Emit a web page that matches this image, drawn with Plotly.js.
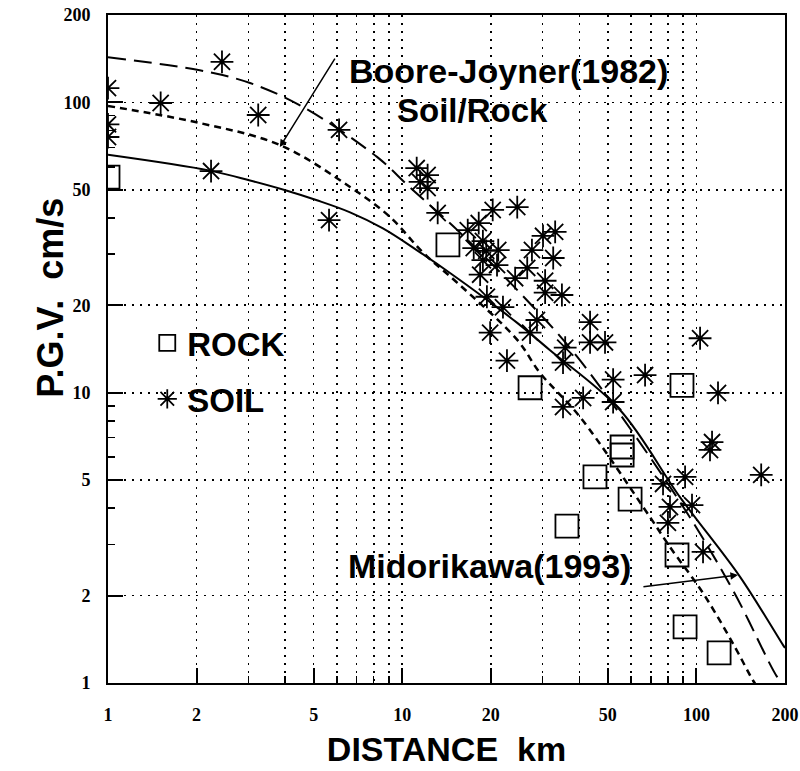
<!DOCTYPE html>
<html>
<head>
<meta charset="utf-8">
<script src="https://cdn.plot.ly/plotly-3.0.1.min.js"></script>
<style>html,body{margin:0;padding:0;background:#fff;}#chart{width:800px;height:771px;}</style>
</head>
<body>
<div id="chart"></div>
<script>
// ROCK stations (distance km, PGV cm/s)
const rockX = [1.0, 14.3, 27.2, 89.3, 55.9, 55.9, 45.2, 59.5, 36.3, 85.9, 91.5, 119.4];
const rockY = [55.3, 32.3, 10.4, 10.6, 6.5, 6.1, 5.13, 4.3, 3.47, 2.76, 1.56, 1.27];

// SOIL stations
const soilX = [1.0, 1.0, 1.0, 1.51, 2.24, 2.44, 3.24, 5.64, 6.10,
  11.2, 12.2, 11.5, 12.2, 13.2, 16.7, 18.2, 20.3, 24.6, 18.8, 17.5, 19.3, 21.2, 18.8, 21.0, 18.4,
  26.6, 27.6, 30.1, 33.1, 32.6, 24.2, 30.6, 30.6, 34.9, 19.4, 22.0, 28.7, 27.2, 19.9, 35.8, 22.7,
  35.2, 43.5, 43.5, 48.9, 102.9, 52.1, 66.9, 118.4, 41.2, 52.1, 35.2, 113, 111.2, 166, 91.5, 77.0,
  81.3, 96.6, 80.0, 105.3];
const soilY = [112, 84, 76, 99.5, 58, 138, 90.5, 39.3, 80.4,
  59.4, 56.2, 53.2, 50.7, 41.6, 36.3, 38.4, 42.6, 43.6, 33.3, 31.5, 30.8, 31.0, 28.6, 27.5, 25.5,
  26.9, 31.0, 34.7, 35.8, 29.1, 24.8, 24.3, 22.1, 21.7, 21.4, 19.7, 17.8, 16.1, 16.1, 14.3, 12.9,
  12.7, 17.5, 14.9, 14.9, 15.4, 11.1, 11.5, 9.98, 9.59, 9.29, 8.93, 6.76, 6.35, 5.21, 5.13, 4.85,
  4.04, 4.10, 3.56, 2.83];

// Boore-Joyner (1982) soil curve (long dash)
const bjSoilX = [1, 2.05, 3.04, 4.6, 8.21, 10.6, 15.4, 25.1, 39.3, 88, 133, 188, 200];
const bjSoilY = [143, 129, 116.6, 96.4, 64.9, 51.1, 36.3, 22.1, 13.3, 4.2, 2.09, 1.05, 0.97];

// Boore-Joyner (1982) rock curve (short dash)
const bjRockX = [1, 2.05, 3.84, 6.65, 9.09, 11.8, 15.4, 24.6, 29.4, 40.2, 69.5, 81.3, 105.3, 133, 155.7, 160];
const bjRockY = [97.2, 84.9, 71.3, 51.1, 40.3, 30.3, 23.9, 15.2, 11.7, 8.25, 3.73, 2.94, 2.04, 1.37, 1.02, 0.98];

// Midorikawa (1993) curve (solid)
const midoX = [1, 2.22, 3.04, 4.06, 5.13, 6.65, 8.6, 11.2, 14.5, 18.8, 24.6, 31.8, 55, 87.9, 140.7, 197, 200];
const midoY = [66, 58.2, 53.8, 49.6, 46.0, 41.8, 36.8, 31.0, 25.9, 21.4, 17.4, 14.0, 8.72, 4.37, 2.32, 1.35, 1.32];

const tickVals = [1, 2, 5, 10, 20, 50, 100, 200];
const tickText = ['1', '2', '5', '10', '20', '50', '100', '200'];
const minorVals = [3, 4, 6, 7, 8, 9, 30, 40, 60, 70, 80, 90];

const traces = [
  {x: bjSoilX, y: bjSoilY, mode: 'lines', line: {color: '#000', width: 2, dash: '18px,8px', shape: 'spline'}, showlegend: false, hoverinfo: 'skip'},
  {x: bjRockX, y: bjRockY, mode: 'lines', line: {color: '#000', width: 2.5, dash: '7px,5px', shape: 'spline'}, showlegend: false, hoverinfo: 'skip'},
  {x: midoX, y: midoY, mode: 'lines', line: {color: '#000', width: 2, shape: 'spline', smoothing: 1}, showlegend: false, hoverinfo: 'skip'},
  {x: rockX, y: rockY, mode: 'markers', name: 'ROCK', legendgroup: 'a',
   marker: {symbol: 'square-open', size: 23, color: '#000', line: {width: 1.8, color: '#000'}}},
  {x: soilX, y: soilY, mode: 'markers', name: 'SOIL', legendgroup: 'b',
   marker: {symbol: 'asterisk-open', size: 19, color: '#000', line: {width: 1.8, color: '#000'}}}
];

const tickFont = {family: 'Liberation Serif, serif', size: 18, color: '#000', weight: 'bold'};
const gridDash = '1.6px,6.4px';

const layout = {
  width: 800, height: 771,
  margin: {l: 108, r: 15, t: 15, b: 88},
  paper_bgcolor: '#fff', plot_bgcolor: '#fff',
  showlegend: true,
  legend: {x: 0.058, xanchor: 'left', y: 0.551, yanchor: 'top', bgcolor: 'rgba(0,0,0,0)',
           font: {family: 'Liberation Sans, Arial, sans-serif', size: 33, color: '#000', weight: 'bold'},
           tracegroupgap: 10, itemsizing: 'trace'},
  xaxis: {
    type: 'log', range: [0, Math.log10(200)],
    tickmode: 'array', tickvals: tickVals, ticktext: tickText,
    ticks: 'inside', ticklen: 15, tickwidth: 2, tickcolor: '#000',
    showline: true, linecolor: '#000', linewidth: 2, mirror: true,
    showgrid: true, gridcolor: '#000', gridwidth: 1.6, griddash: gridDash,
    zeroline: false, tickfont: tickFont, ticklabelstandoff: 14,
    minor: {tickmode: 'array', tickvals: minorVals, ticks: 'inside', ticklen: 7, tickwidth: 1.5, tickcolor: '#000',
            showgrid: true, gridcolor: '#000', gridwidth: 1.6, griddash: gridDash},
    title: {text: 'DISTANCE  km', font: {family: 'Liberation Sans, Arial, sans-serif', size: 34, color: '#000', weight: 'bold'}, standoff: 14}
  },
  yaxis: {
    type: 'log', range: [0, Math.log10(200)],
    tickmode: 'array', tickvals: tickVals, ticktext: tickText,
    ticks: 'inside', ticklen: 15, tickwidth: 2, tickcolor: '#000',
    showline: true, linecolor: '#000', linewidth: 2, mirror: true,
    showgrid: true, gridcolor: '#000', gridwidth: 1.6, griddash: gridDash,
    zeroline: false, tickfont: tickFont, ticklabelstandoff: 12,
    minor: {tickmode: 'array', tickvals: minorVals, ticks: 'inside', ticklen: 7, tickwidth: 1.5, tickcolor: '#000', showgrid: false}
  },
  annotations: [
    {xref: 'paper', yref: 'paper', x: -0.118, y: 0.576, text: 'P.G.V.  cm/s', textangle: -90, showarrow: false,
     font: {family: 'Liberation Sans, Arial, sans-serif', size: 36, color: '#000', weight: 'bold'}},
    {xref: 'paper', yref: 'paper', x: 0.592, y: 0.948, text: 'Boore-Joyner(1982)', showarrow: false,
     font: {family: 'Liberation Sans, Arial, sans-serif', size: 34, color: '#000', weight: 'bold'}},
    {xref: 'paper', yref: 'paper', x: 0.538, y: 0.888, text: 'Soil/Rock', showarrow: false,
     font: {family: 'Liberation Sans, Arial, sans-serif', size: 33, color: '#000', weight: 'bold'}},
    {xref: 'paper', yref: 'paper', x: 0.564, y: 0.144, text: 'Midorikawa(1993)', showarrow: false,
     font: {family: 'Liberation Sans, Arial, sans-serif', size: 34, color: '#000', weight: 'bold'}},
    {xref: 'x', yref: 'y', x: 0.584, y: 1.846, ax: 56, ay: -90, text: '', showarrow: true,
     arrowhead: 2, arrowsize: 1, arrowwidth: 1.5, arrowcolor: '#000'},
    {xref: 'x', yref: 'y', x: 2.141, y: 0.372, ax: -96, ay: 12, text: '', showarrow: true,
     arrowhead: 2, arrowsize: 1, arrowwidth: 1.5, arrowcolor: '#000'}
  ]
};

Plotly.newPlot('chart', traces, layout, {staticPlot: true, displayModeBar: false});
</script>
</body>
</html>
